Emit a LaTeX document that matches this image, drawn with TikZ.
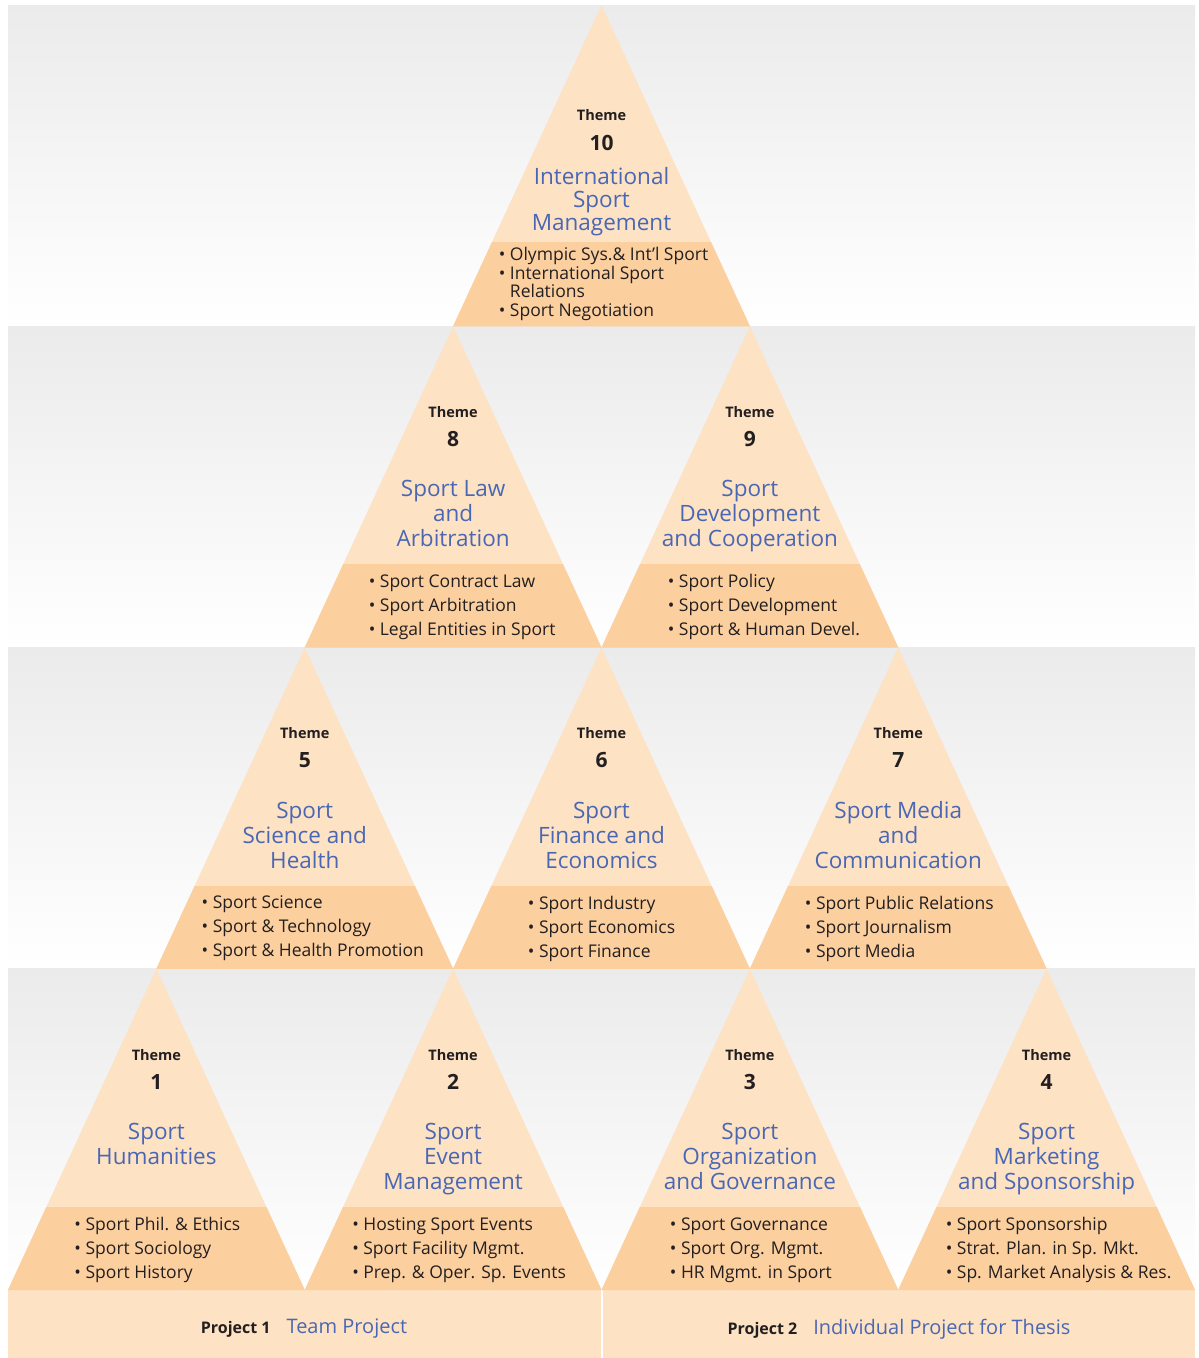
\documentclass[tikz,border=0pt]{standalone}
\usepackage{fontspec}
\setmainfont{Open Sans}
\usetikzlibrary{positioning}
\definecolor{lightorange}{HTML}{FDE2C4}
\definecolor{darkorange}{HTML}{FCCF9F}
\definecolor{titleblue}{HTML}{4A67B4}
\definecolor{textdark}{HTML}{231F20}
\definecolor{bandgray}{HTML}{EBEBEB}

% one theme triangle: name, apex x, apex y, number, title, list shift, list
\newcommand{\themetri}[7]{%
  \fill[lightorange] (#2,#3) -- ++(-148.4,321.25) -- ++(296.8,0) -- cycle;
  \begin{scope}
    \clip (#2,#3) -- ++(-148.4,321.25) -- ++(296.8,0) -- cycle;
    \fill[darkorange] (#2-150,#3+238) rectangle (#2+150,#3+322);
  \end{scope}
  \node[themelbl] (#1) at (#2,#3+86) {Theme};
  \node[themenum, below=27pt of #1] (#1-num) {#4};
  \node[themetitle] (#1-title) at (#2,#3+154) {#5};
  \node[themelist] (#1-list) at (#2+#6,#3+281) {#7};
}

\begin{document}
\begin{tikzpicture}[x=1pt, y=-1pt,
    themelbl/.style={font=\bfseries\fontsize{14.5}{16}\selectfont, text=textdark, inner sep=0},
    themenum/.style={font=\bfseries\fontsize{21}{24}\selectfont, text=textdark, inner sep=0, on grid},
    themetitle/.style={anchor=north, align=center, font=\fontsize{22.5}{25}\selectfont, text=titleblue, inner sep=0},
    themelist/.style={align=left, font=\fontsize{17.5}{24}\selectfont, text=textdark, inner sep=0},
    projlbl/.style={font=\bfseries\fontsize{16}{18}\selectfont, text=textdark, inner sep=0}]
  \useasboundingbox (0,0) rectangle (1199,1358);

  % background bands
  \shade[top color=bandgray, bottom color=white] (8,5) rectangle (1195,326.25);
  \shade[top color=bandgray, bottom color=white] (8,326.25) rectangle (1195,647.5);
  \shade[top color=bandgray, bottom color=white] (8,647.5) rectangle (1195,968.75);
  \shade[top color=bandgray, bottom color=white] (8,968.75) rectangle (1195,1290);

  % projects
  \fill[lightorange] (8,1290) rectangle (600.5,1358);
  \fill[lightorange] (602.5,1290) rectangle (1195,1358);
  \node[projlbl] (p1) at (304,1329) {Project 1\hspace{16pt}{\mdseries\fontsize{20}{22}\selectfont\color{titleblue}Team Project}};
  \node[projlbl] (p2) at (899,1329) {Project 2\hspace{16pt}{\mdseries\fontsize{20}{22}\selectfont\color{titleblue}Individual Project for Thesis}};

  % row 1
  \themetri{t1}{156.4}{968.75}{1}{Sport\\Humanities}{1}{%
    \textbullet\ Sport Phil. \& Ethics\\\textbullet\ Sport Sociology\\\textbullet\ Sport History}
  \themetri{t2}{453.1}{968.75}{2}{Sport\\Event\\Management}{6}{%
    \textbullet\ Hosting Sport Events\\\textbullet\ Sport Facility Mgmt.\\\textbullet\ Prep. \& Oper. Sp. Events}
  \themetri{t3}{749.9}{968.75}{3}{Sport\\Organization\\and Governance}{1}{%
    \textbullet\ Sport Governance\\\textbullet\ Sport Org. Mgmt.\\\textbullet\ HR Mgmt. in Sport}
  \themetri{t4}{1046.6}{968.75}{4}{Sport\\Marketing\\and Sponsorship}{12}{%
    \textbullet\ Sport Sponsorship\\\textbullet\ Strat. Plan. in Sp. Mkt.\\\textbullet\ Sp. Market Analysis \& Res.}

  % row 2
  \themetri{t5}{304.75}{647.5}{5}{Sport\\Science and\\Health}{8}{%
    \textbullet\ Sport Science\\\textbullet\ Sport \& Technology\\\textbullet\ Sport \& Health Promotion}
  \themetri{t6}{601.5}{647.5}{6}{Sport\\Finance and\\Economics}{0}{%
    \textbullet\ Sport Industry\\\textbullet\ Sport Economics\\\textbullet\ Sport Finance}
  \themetri{t7}{898.25}{647.5}{7}{Sport Media\\and\\Communication}{1}{%
    \textbullet\ Sport Public Relations\\\textbullet\ Sport Journalism\\\textbullet\ Sport Media}

  % row 3
  \themetri{t8}{453.1}{326.25}{8}{Sport Law\\and\\Arbitration}{9}{%
    \textbullet\ Sport Contract Law\\\textbullet\ Sport Arbitration\\\textbullet\ Legal Entities in Sport}
  \themetri{t9}{749.9}{326.25}{9}{Sport\\Development\\and Cooperation}{14}{%
    \textbullet\ Sport Policy\\\textbullet\ Sport Development\\\textbullet\ Sport \& Human Devel.}

  % top
  \fill[lightorange] (601.5,5) -- ++(-148.4,321.25) -- ++(296.8,0) -- cycle;
  \begin{scope}
    \clip (601.5,5) -- ++(-148.4,321.25) -- ++(296.8,0) -- cycle;
    \fill[darkorange] (450,242) rectangle (753,327);
  \end{scope}
  \node[themelbl] (t10) at (601.5,115) {Theme};
  \node[themenum, below=28pt of t10] (t10-num) {10};
  \node[themetitle, font=\fontsize{22.5}{23}\selectfont] (t10-title) at (601.5,167) {International\\Sport\\Management};
  \node[themelist, font=\fontsize{17.5}{18.7}\selectfont] (t10-list) at (603.5,284) {%
    \textbullet\ Olympic Sys.\& Int’l Sport\\\textbullet\ International Sport\\\phantom{\textbullet\ }Relations\\\textbullet\ Sport Negotiation};
\end{tikzpicture}
\end{document}
